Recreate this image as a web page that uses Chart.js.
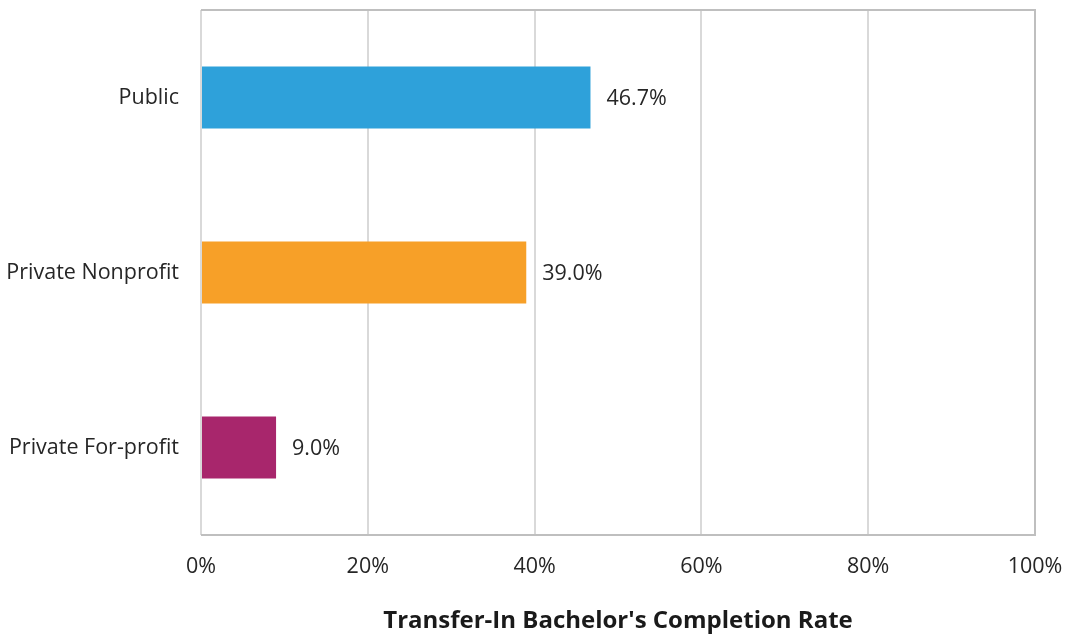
<!DOCTYPE html>
<html>
<head>
<meta charset="utf-8">
<script src="https://cdn.jsdelivr.net/npm/chart.js@4/dist/chart.umd.min.js"></script>
<style>
  html, body { margin: 0; padding: 0; background: #fff; }
  #wrap { position: relative; width: 1066px; height: 636px; }
</style>
</head>
<body>
<div id="wrap"><canvas id="chart"></canvas></div>
<script>
const categories = ["Public", "Private Nonprofit", "Private For-profit"];
const rates = [46.7, 39.0, 9.0];
const barColors = ["#2ea1da", "#f7a028", "#a8266c"];
const xTicks = [0, 20, 40, 60, 80, 100];
const axisTitle = "Transfer-In Bachelor's Completion Rate";

const FONT = "'Open Sans', 'Noto Sans', sans-serif";
const TEXT = "#262626";
const SIZE = 21.5;

// value labels just after each bar end
const barLabels = {
  id: "barLabels",
  afterDatasetsDraw(chart) {
    const ctx = chart.ctx;
    const meta = chart.getDatasetMeta(0);
    ctx.save();
    ctx.font = SIZE + "px " + FONT;
    ctx.fillStyle = TEXT;
    ctx.textAlign = "left";
    ctx.textBaseline = "middle";
    meta.data.forEach((bar, i) => {
      ctx.fillText(rates[i].toFixed(1) + "%", bar.x + 16, bar.y + 1);
    });
    ctx.restore();
  }
};

// plot area frame: grey top/right/bottom
const frame = {
  id: "frame",
  beforeDatasetsDraw(chart) {
    const { left, right, top, bottom } = chart.chartArea;
    const ctx = chart.ctx;
    ctx.save();
    ctx.lineWidth = 2;
    ctx.strokeStyle = "#bfbfbf";
    ctx.beginPath();
    ctx.moveTo(left, top);
    ctx.lineTo(right, top);
    ctx.lineTo(right, bottom);
    ctx.lineTo(left, bottom);
    ctx.stroke();
    ctx.restore();
  }
};

new Chart(document.getElementById("chart"), {
  type: "bar",
  data: {
    labels: categories,
    datasets: [{
      data: rates,
      backgroundColor: barColors,
      borderWidth: 0,
      categoryPercentage: 1,
      barPercentage: 0.355
    }]
  },
  options: {
    indexAxis: "y",
    responsive: true,
    maintainAspectRatio: false,
    animation: false,
    layout: { padding: { top: 10, right: 31, left: 0, bottom: 0 } },
    plugins: {
      legend: { display: false },
      tooltip: { enabled: false }
    },
    scales: {
      x: {
        min: 0,
        max: 100,
        afterFit(scale) {
          scale.height = 101;
          scale.paddingLeft = 0;
          scale.paddingRight = 0;
        },
        afterBuildTicks(scale) { scale.ticks = xTicks.map(v => ({ value: v })); },
        border: { display: false },
        grid: { color: "#d9d9d9", lineWidth: 2, drawTicks: false },
        ticks: {
          padding: 19,
          color: TEXT,
          font: { family: FONT, size: SIZE },
          callback: v => v + "%"
        },
        title: {
          display: true,
          text: axisTitle,
          color: "#1a1a1a",
          font: { family: FONT, size: 24, weight: "bold" },
          padding: { top: 0, bottom: 0 }
        }
      },
      y: {
        afterFit(scale) {
          scale.width = 201;
          scale.paddingTop = 0;
          scale.paddingBottom = 0;
        },
        border: { display: false },
        grid: { display: false, drawTicks: false },
        ticks: {
          padding: 22,
          color: TEXT,
          font: { family: FONT, size: SIZE }
        }
      }
    }
  },
  plugins: [frame, barLabels]
});
</script>
</body>
</html>
